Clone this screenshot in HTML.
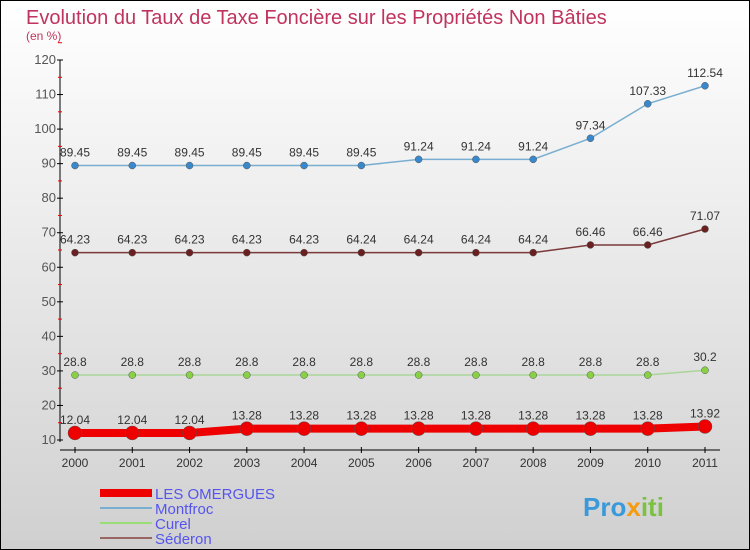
<!DOCTYPE html>
<html><head><meta charset="utf-8"><style>
body{margin:0}
#c{width:750px;height:550px;position:relative;box-sizing:border-box;border:1px solid #000;background:linear-gradient(#fff,#d0d0d0);font-family:"Liberation Sans",sans-serif;overflow:hidden}
</style></head><body>
<div id="c">
<svg id="s" width="750" height="550" style="position:absolute;left:-1px;top:-1px">
<text x="26" y="24" font-size="20" fill="#c0335f">Evolution du Taux de Taxe Foncière sur les Propriétés Non Bâties</text>
<text x="26" y="40" font-size="12" fill="#c0335f">(en %)</text>
<g id="axes"></g><g id="series"></g>
<g>
<rect x="100" y="489" width="52" height="8" fill="#e00"/>
<text x="155" y="499" font-size="15" fill="#55e">LES OMERGUES</text>
<rect x="100" y="507" width="52" height="2" fill="#7aaed0"/>
<text x="155" y="514" font-size="15" fill="#55e">Montfroc</text>
<rect x="100" y="522" width="52" height="2" fill="#99dd77"/>
<text x="155" y="529" font-size="15" fill="#55e">Curel</text>
<rect x="100" y="537" width="52" height="2" fill="#996666"/>
<text x="155" y="544" font-size="15" fill="#55e">Séderon</text>
</g>
<g><text x="583" y="516" font-size="26" font-weight="bold" fill="#3a9ad9">Pro<tspan fill="#f39c12">x</tspan><tspan fill="#7cc242">iti</tspan></text></g>
</svg></div>
<script>
const years=[2000,2001,2002,2003,2004,2005,2006,2007,2008,2009,2010,2011];
const omergues=[12.04,12.04,12.04,13.28,13.28,13.28,13.28,13.28,13.28,13.28,13.28,13.92];
const montfroc=[89.45,89.45,89.45,89.45,89.45,89.45,91.24,91.24,91.24,97.34,107.33,112.54];
const curel=[28.8,28.8,28.8,28.8,28.8,28.8,28.8,28.8,28.8,28.8,28.8,30.2];
const sederon=[64.23,64.23,64.23,64.23,64.23,64.24,64.24,64.24,64.24,66.46,66.46,71.07];
const yTicks=[10,20,30,40,50,60,70,80,90,100,110,120];
const NS="http://www.w3.org/2000/svg";
const xs=i=>75+i*(630/11);
const ys=v=>440-(v-10)*(380/110);
function mk(t,a,p){const e=document.createElementNS(NS,t);for(const k in a)e.setAttribute(k,a[k]);p.appendChild(e);return e;}
const ax=document.getElementById('axes');
let l=mk('line',{x1:60,y1:ys(120),x2:60,y2:ys(10)+2,stroke:'#000'},ax);


l=mk('line',{x1:60,y1:450,x2:720,y2:450,stroke:'#000'},ax);


yTicks.forEach(v=>{
 mk('line',{x1:57,y1:ys(v),x2:63,y2:ys(v),stroke:'#000'},ax);
 mk('line',{x1:58,y1:ys(v+5),x2:62,y2:ys(v+5),stroke:'#e00'},ax);
 const t=mk('text',{x:56,y:ys(v)+4,'font-size':13,fill:'#555','text-anchor':'end'},ax);
 t.textContent=v;
 
 
});
years.forEach((y,i)=>{
 mk('line',{x1:xs(i),y1:447,x2:xs(i),y2:453,stroke:'#000'},ax);
 const t=mk('text',{x:xs(i),y:467,'font-size':12,fill:'#333','text-anchor':'middle'},ax);
 t.textContent=y;
 
 
});
const sg=document.getElementById('series');
function series(d,name,color,w,r,dot){
 const g=mk('g',{},sg);
 
 
 mk('polyline',{points:d.map((v,i)=>xs(i)+','+ys(v)).join(' '),fill:'none',stroke:color,'stroke-width':w},g);
 d.forEach((v,i)=>{
  const c=mk('circle',{cx:xs(i),cy:ys(v),r:r,fill:dot,stroke:'#555','stroke-width':0.5},g);
  
  
  const t=mk('text',{x:xs(i),y:ys(v)-9,'font-size':12,fill:'#333','text-anchor':'middle'},g);
  t.textContent=String(v);
  
  
 });
}
series(montfroc,'montfroc','#7aaed0',1.5,3.5,'#3a88cc');
series(sederon,'sederon','#7a3a3a',1.5,3.5,'#6a2020');
series(curel,'curel','#aad699',1.5,3.5,'#88d044');
series(omergues,'les-omergues','#e00',8,7,'#e00');
</script>
</body></html>
